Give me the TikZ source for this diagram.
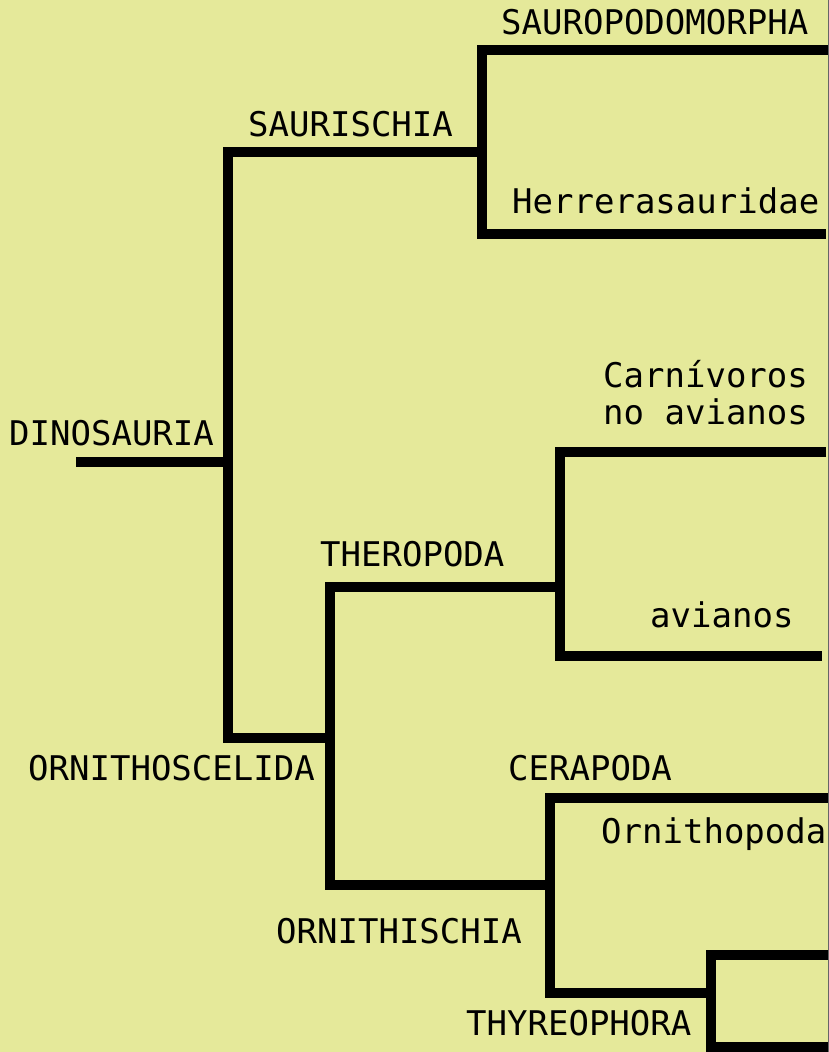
\documentclass[tikz,border=0pt]{standalone}
\usepackage{fontspec}
\setmonofont{DejaVu Sans Mono}
\definecolor{bg}{RGB}{229,233,154}
\begin{document}
\begin{tikzpicture}[x=1pt,y=-1pt,
  branch/.style={line width=10pt,line join=miter,line cap=butt},
  lbl/.style={anchor=base west,inner sep=0pt,font=\ttfamily\fontsize{34}{37}\selectfont}]
\fill[bg] (0,0) rectangle (829,1052);
\useasboundingbox (0,0) rectangle (829,1052);
% junction coordinates
\coordinate (root) at (76,462);
\coordinate (dino) at (228,462);
\coordinate (sauT) at (228,152);
\coordinate (ornB) at (228,738);
\coordinate (sau) at (482,152);
\coordinate (sauTop) at (482,50);
\coordinate (sauBot) at (482,234);
\coordinate (sauropEnd) at (829,50);
\coordinate (herrEnd) at (826,234);
\coordinate (orn) at (330,738);
\coordinate (ornTop) at (330,587);
\coordinate (ornBot) at (330,885);
\coordinate (the) at (560,587);
\coordinate (theTop) at (560,452);
\coordinate (theBot) at (560,656);
\coordinate (carnEnd) at (826,452);
\coordinate (avEnd) at (822,656);
\coordinate (ort) at (550,885);
\coordinate (ortTop) at (550,798);
\coordinate (ortBot) at (550,993);
\coordinate (ceraEnd) at (829,798);
\coordinate (thy) at (711,993);
\coordinate (thyTop) at (711,955);
\coordinate (thyBot) at (711,1047);
\coordinate (thyLow) at (711,1052);
\coordinate (thyEndT) at (829,955);
\coordinate (thyEndB) at (829,1047);
% branches
\draw[branch] (root) -- (dino);
\draw[branch] (sau) -| (sauT) |- (orn);
\draw[branch] (sauropEnd) -| (sauBot) -- (herrEnd);
\draw[branch] (the) -| (ornBot) -- (ort);
\draw[branch] (carnEnd) -| (theBot) -- (avEnd);
\draw[branch] (ceraEnd) -| (ortBot) -- (thy);
\draw[branch] (thyEndT) -| (thyLow);
\draw[branch] (thyBot) -- (thyEndB);
% labels
\node[lbl] (l1) at (501,34) {SAUROPODOMORPHA};
\node[lbl] (l2) at (248,136) {SAURISCHIA};
\node[lbl] (l3) at (512,213) {Herrerasauridae};
\node[lbl] (l4) at (9,445) {DINOSAURIA};
\node[lbl] (l5) at (603,387) {Carnívoros};
\node[lbl] (l6) at (603,424) {no avianos};
\node[lbl] (l7) at (320,566) {THEROPODA};
\node[lbl] (l8) at (650,627) {avianos};
\node[lbl] (l9) at (28,780) {ORNITHOSCELIDA};
\node[lbl] (l10) at (508,780) {CERAPODA};
\node[lbl] (l11) at (601,843) {Ornithopoda};
\node[lbl] (l12) at (276,943) {ORNITHISCHIA};
\node[lbl] (l13) at (466,1035) {THYREOPHORA};
\draw[line width=1pt,black!60] (828.5,0) -- (828.5,1052);
\end{tikzpicture}
\end{document}
